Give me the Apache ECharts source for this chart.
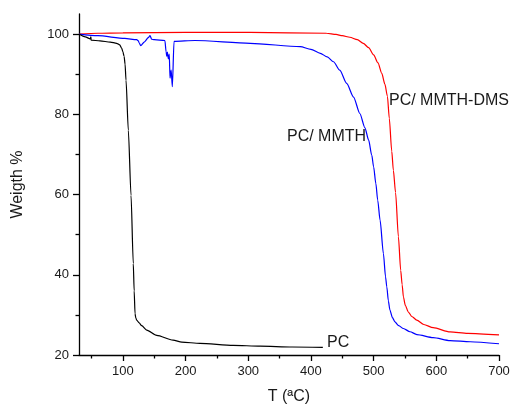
<!DOCTYPE html>
<html>
<head>
<meta charset="utf-8">
<script src="https://cdn.jsdelivr.net/npm/echarts@6/dist/echarts.min.js"></script>
<style>
  html, body { margin: 0; padding: 0; background: #fff; }
  #chart { width: 510px; height: 406px; }
</style>
</head>
<body>
<div id="chart"></div>
<script>
// TGA curves: temperature (°C) and remaining weight (%)
const pcT = [30, 40, 48, 49, 49.3, 63.5, 80, 90, 95, 98, 100, 102, 103.5, 105, 108.7, 113, 116.6, 118, 119.4, 120.5, 122, 126, 130, 138, 154, 180, 194, 223, 276, 319, 370, 419];
const pcW = [100, 99.3, 98.8, 99.3, 98.5, 98.3, 98.0, 97.7, 97.3, 96.5, 95.6, 94.4, 92.5, 88.5, 76.0, 59.8, 42.8, 36.0, 30.3, 29.3, 28.7, 28.0, 27.3, 26.2, 24.9, 23.7, 23.2, 22.9, 22.4, 22.2, 22.0, 21.9];

const mmthT = [30, 60, 103, 122, 124.6, 126, 128.4, 134, 140.6, 143.3, 146, 150, 167, 169, 170, 171, 172.5, 174, 175.2, 177, 178.9, 181.6, 215, 303, 383, 400, 415, 426, 436, 446, 457, 468, 478, 486, 492, 497, 500, 503.5, 506.5, 510.3, 515.6, 519, 521, 523.5, 526, 530, 534, 540, 547.5, 558, 569, 595, 622, 654, 700];
const mmthW = [100, 99.6, 98.9, 98.6, 98.3, 97.8, 97.1, 98.0, 99.1, 99.6, 98.7, 98.6, 98.4, 95.5, 94.5, 95.5, 93.8, 95.0, 89.0, 91.0, 86.9, 98.2, 98.4, 97.7, 96.85, 96.2, 95.2, 94.3, 93.1, 91.0, 87.7, 84.3, 80.2, 76.7, 73.6, 69.8, 66.9, 62.8, 58.6, 53.6, 45.3, 39.5, 37.0, 33.5, 31.2, 29.3, 28.25, 27.3, 26.6, 25.8, 25.1, 24.35, 23.6, 23.3, 22.8];

const dmsT = [30, 60, 100, 200, 303, 425, 440, 450, 462, 474, 483.5, 492, 500, 507, 513, 518, 522, 525, 528.9, 531.5, 535, 539.5, 543.2, 545.5, 547.5, 550.5, 555.4, 561, 568.7, 580, 595, 622, 650, 700];
const dmsW = [100, 100.2, 100.3, 100.4, 100.4, 100.2, 99.9, 99.6, 99.2, 98.6, 97.7, 96.6, 94.8, 92.8, 90.2, 87.5, 84.5, 79.0, 70.8, 66.0, 60.5, 49.5, 41.1, 37.5, 34.5, 32.4, 30.7, 29.6, 28.7, 27.6, 26.8, 25.75, 25.4, 25.0];

// Axis ticks
const xMajor = [100, 200, 300, 400, 500, 600, 700];
const xMinor = [50, 150, 250, 350, 450, 550, 650];
const yMajor = [20, 40, 60, 80, 100];
const yMinor = [30, 50, 70, 90];

const seriesNames = ['PC', 'PC/ MMTH', 'PC/ MMTH-DMS'];

const FONT = '"Liberation Sans", Arial, sans-serif';
const TXT = '#1a1a1a';

function zip(t, w) { return t.map((v, i) => [v, w[i]]); }

const chart = echarts.init(document.getElementById('chart'), null, { renderer: 'canvas' });

const lineStyleAxis = { color: '#000', width: 1.3 };

function curve(name, t, w, color, z) {
  return {
    name: name, type: 'line', data: zip(t, w), showSymbol: false,
    smooth: 0.25, smoothMonotone: 'x',
    lineStyle: { color: color, width: 1.2 }, z: z
  };
}

chart.setOption({
  animation: false,
  backgroundColor: '#fff',
  grid: { left: 79, right: 11, top: 14, bottom: 51, containLabel: false, outerBoundsMode: 'none' },
  xAxis: [
    {
      type: 'value', min: 30, max: 700,
      name: 'T (ªC)', nameLocation: 'middle', nameGap: 34,
      nameTextStyle: { fontFamily: FONT, fontSize: 16, color: TXT },
      axisLine: { show: true, lineStyle: lineStyleAxis },
      axisTick: { show: true, length: 6, customValues: xMajor, lineStyle: lineStyleAxis },
      axisLabel: { customValues: xMajor, margin: 10, fontFamily: FONT, fontSize: 13, color: TXT },
      splitLine: { show: false }
    },
    {
      type: 'value', min: 30, max: 700, position: 'bottom',
      axisLine: { show: false },
      axisTick: { show: true, length: 3.5, customValues: xMinor, lineStyle: lineStyleAxis },
      axisLabel: { show: false },
      splitLine: { show: false }
    }
  ],
  yAxis: [
    {
      type: 'value', min: 20, max: 105,
      name: 'Weigth %', nameLocation: 'middle', nameGap: 53,
      nameTextStyle: { fontFamily: FONT, fontSize: 16, color: TXT },
      axisLine: { show: true, lineStyle: lineStyleAxis },
      axisTick: { show: true, length: 6, customValues: yMajor, lineStyle: lineStyleAxis },
      axisLabel: { customValues: yMajor, margin: 10, fontFamily: FONT, fontSize: 13, color: TXT },
      splitLine: { show: false }
    },
    {
      type: 'value', min: 20, max: 105, position: 'left',
      axisLine: { show: false },
      axisTick: { show: true, length: 3.5, customValues: yMinor, lineStyle: lineStyleAxis },
      axisLabel: { show: false },
      splitLine: { show: false }
    }
  ],
  series: [
    curve(seriesNames[2], dmsT, dmsW, '#ff0000', 2),
    curve(seriesNames[1], mmthT, mmthW, '#0000ff', 3),
    curve(seriesNames[0], pcT, pcW, '#000000', 4)
  ],
  graphic: [
    { type: 'text', left: 389, top: 93, style: { text: seriesNames[2], font: '16px ' + FONT, fill: TXT } },
    { type: 'text', left: 287, top: 129, style: { text: seriesNames[1], font: '16px ' + FONT, fill: TXT } },
    { type: 'text', left: 327, top: 335, style: { text: seriesNames[0], font: '16px ' + FONT, fill: TXT } }
  ]
});
</script>
</body>
</html>
